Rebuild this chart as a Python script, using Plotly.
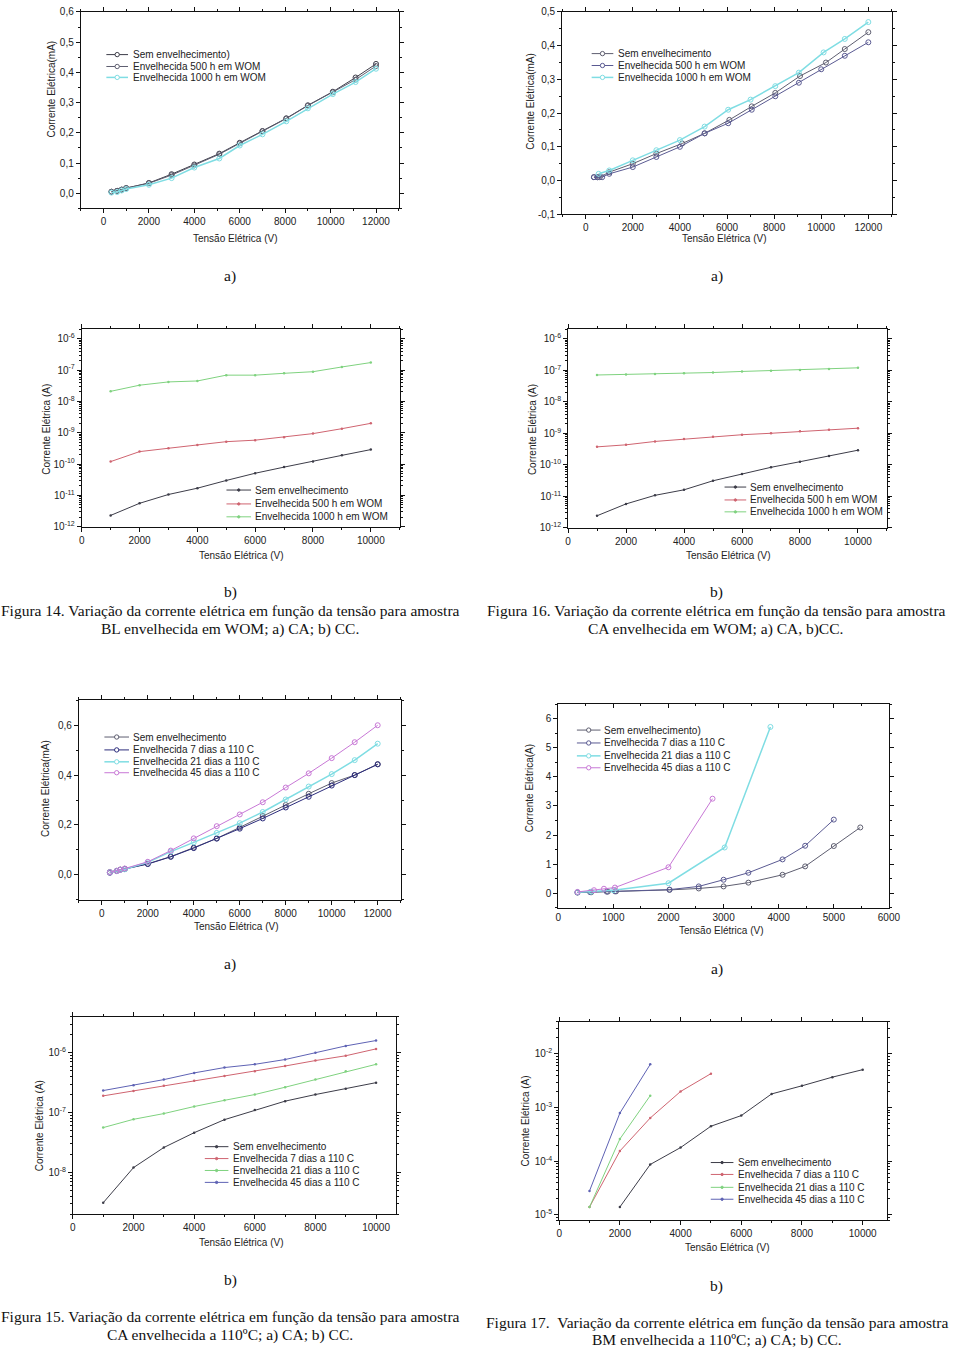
import math
import plotly.graph_objects as go

W, H = 960, 1357

# ---------------- data ----------------
# Panel 1 (Fig 14 a) - CA, BL in WOM
p1_names = ["Sem envelhecimento)", "Envelhecida 500 h em WOM", "Envelhecida 1000 h em WOM"]
p1_x = [350, 600, 800, 1000, 2000, 3000, 4000, 5100, 6000, 7000, 8050, 9000, 10100, 11100, 12000]
p1_sem = [0.005, 0.008, 0.012, 0.017, 0.034, 0.063, 0.095, 0.131, 0.167, 0.206, 0.248, 0.291, 0.336, 0.383, 0.428]
p1_500 = [0.005, 0.008, 0.012, 0.017, 0.033, 0.060, 0.092, 0.129, 0.165, 0.205, 0.247, 0.290, 0.334, 0.376, 0.421]
p1_1000 = [0.002, 0.004, 0.009, 0.014, 0.028, 0.050, 0.085, 0.115, 0.158, 0.195, 0.238, 0.281, 0.328, 0.368, 0.412]

# Panel 2 (Fig 16 a) - CA, CA in WOM
p2_names = ["Sem envelhecimento", "Envelhecida 500 h em WOM", "Envelhecida 1000 h em WOM"]
p2_x_sem = [350, 500, 600, 1000, 2000, 3000, 4100, 5050, 6100, 7050, 8050, 9100, 10200, 11000, 12000]
p2_sem = [0.01, 0.01, 0.01, 0.025, 0.05, 0.08, 0.11, 0.14, 0.18, 0.22, 0.26, 0.31, 0.35, 0.39, 0.44]
p2_x_500 = [350, 500, 700, 1000, 2000, 3000, 4000, 5050, 6050, 7050, 8050, 9050, 10000, 11000, 12000]
p2_500 = [0.01, 0.01, 0.01, 0.02, 0.04, 0.07, 0.10, 0.14, 0.17, 0.21, 0.25, 0.29, 0.33, 0.37, 0.41]
p2_x_1000 = [550, 1000, 2000, 3000, 4000, 5050, 6050, 7000, 8050, 9050, 10100, 11000, 12000]
p2_1000 = [0.02, 0.03, 0.06, 0.09, 0.12, 0.16, 0.21, 0.24, 0.28, 0.32, 0.38, 0.42, 0.47]

# Panel 3 (Fig 14 b) - CC
cc_names_wom = ["Sem envelhecimento", "Envelhecida 500 h em WOM", "Envelhecida 1000 h em WOM"]
cc_x = [1000, 2000, 3000, 4000, 5000, 6000, 7000, 8000, 9000, 10000]
p3_sem = [2.3e-12, 5.6e-12, 1.07e-11, 1.7e-11, 3.0e-11, 5.1e-11, 8.0e-11, 1.2e-10, 1.9e-10, 2.9e-10]
p3_500 = [1.2e-10, 2.5e-10, 3.2e-10, 4.1e-10, 5.2e-10, 5.8e-10, 7.2e-10, 9.4e-10, 1.35e-9, 2.0e-9]
p3_1000 = [2.1e-8, 3.3e-8, 4.2e-8, 4.5e-8, 6.9e-8, 6.9e-8, 7.9e-8, 8.9e-8, 1.26e-7, 1.74e-7]

# Panel 4 (Fig 16 b) - CC
p4_sem = [2.4e-12, 5.7e-12, 1.07e-11, 1.6e-11, 3.1e-11, 5.1e-11, 8.3e-11, 1.25e-10, 1.9e-10, 2.9e-10]
p4_500 = [3.7e-10, 4.3e-10, 5.5e-10, 6.6e-10, 7.8e-10, 9.0e-10, 1.0e-9, 1.15e-9, 1.3e-9, 1.45e-9]
p4_1000 = [7.1e-8, 7.4e-8, 7.7e-8, 8.1e-8, 8.5e-8, 9.2e-8, 9.7e-8, 1.03e-7, 1.1e-7, 1.2e-7]

# Panel 5 (Fig 15 a) - CA, 110 C
p5_names = ["Sem envelhecimento", "Envelhecida 7 dias a 110 C", "Envelhecida 21 dias a 110 C", "Envelhecida 45 dias a 110 C"]
p5_x = [350, 650, 800, 1000, 2000, 3000, 4000, 5000, 6000, 7000, 8000, 9000, 10000, 11000, 12000]
p5_sem = [0.011, 0.016, 0.021, 0.024, 0.044, 0.073, 0.109, 0.146, 0.190, 0.236, 0.280, 0.325, 0.368, 0.400, 0.444]
p5_7 = [0.008, 0.015, 0.020, 0.023, 0.043, 0.072, 0.107, 0.145, 0.185, 0.226, 0.270, 0.313, 0.358, 0.400, 0.443]
p5_21 = [0.010, 0.015, 0.020, 0.022, 0.050, 0.093, 0.130, 0.168, 0.207, 0.252, 0.302, 0.354, 0.404, 0.460, 0.526]
p5_45 = [0.010, 0.015, 0.020, 0.025, 0.052, 0.097, 0.146, 0.195, 0.242, 0.291, 0.350, 0.407, 0.468, 0.532, 0.600]

# Panel 6 (Fig 17 a) - CA, BM 110 C
p6_names = ["Sem envelhecimento)", "Envelhecida 7 dias a 110 C", "Envelhecida 21 dias a 110 C", "Envelhecida 45 dias a 110 C"]
p6_x_sem = [350, 600, 900, 1050, 2020, 2550, 3000, 3450, 4070, 4480, 5000, 5480]
p6_sem = [0.02, 0.03, 0.05, 0.06, 0.11, 0.16, 0.23, 0.36, 0.63, 0.92, 1.62, 2.26]
p6_x_7 = [350, 580, 880, 1030, 2020, 2550, 3000, 3450, 4070, 4480, 5000]
p6_7 = [0.02, 0.03, 0.05, 0.06, 0.12, 0.23, 0.46, 0.70, 1.16, 1.63, 2.53]
p6_x_21 = [350, 600, 1000, 2000, 3020, 3850]
p6_21 = [0.03, 0.05, 0.10, 0.34, 1.57, 5.72]
p6_x_45 = [350, 650, 830, 1030, 2000, 2800]
p6_45 = [0.04, 0.10, 0.15, 0.19, 0.89, 3.25]

# Panel 7 (Fig 15 b) - CC
cc_names_110 = ["Sem envelhecimento", "Envelhecida 7 dias a 110 C", "Envelhecida 21 dias a 110 C", "Envelhecida 45 dias a 110 C"]
p7_sem = [3.1e-9, 1.2e-8, 2.6e-8, 4.6e-8, 7.6e-8, 1.1e-7, 1.55e-7, 2.0e-7, 2.5e-7, 3.16e-7]
p7_7 = [1.9e-7, 2.3e-7, 2.8e-7, 3.4e-7, 4.07e-7, 4.9e-7, 6.0e-7, 7.4e-7, 8.9e-7, 1.16e-6]
p7_21 = [5.6e-8, 7.7e-8, 9.6e-8, 1.26e-7, 1.6e-7, 2.0e-7, 2.65e-7, 3.55e-7, 4.9e-7, 6.4e-7]
p7_45 = [2.33e-7, 2.85e-7, 3.55e-7, 4.6e-7, 5.65e-7, 6.4e-7, 7.7e-7, 1.0e-6, 1.3e-6, 1.6e-6]

# Panel 8 (Fig 17 b) - CC
p8_x_sem = [2000, 3000, 4000, 5000, 6000, 7000, 8000, 9000, 10000]
p8_sem = [1.4e-5, 8.7e-5, 1.8e-4, 4.5e-4, 7.1e-4, 1.8e-3, 2.55e-3, 3.7e-3, 5.1e-3]
p8_x_7 = [1000, 2000, 3000, 4000, 5000]
p8_7 = [1.4e-5, 1.55e-4, 6.4e-4, 2.0e-3, 4.3e-3]
p8_x_21 = [1000, 2000, 3000]
p8_21 = [1.4e-5, 2.6e-4, 1.67e-3]
p8_x_45 = [1000, 2000, 3000]
p8_45 = [2.8e-5, 7.9e-4, 6.4e-3]

# tick labels
xt_12k = [0, 2000, 4000, 6000, 8000, 10000, 12000]
xt_12k_txt = ["0", "2000", "4000", "6000", "8000", "10000", "12000"]
xt_10k = [0, 2000, 4000, 6000, 8000, 10000]
xt_10k_txt = ["0", "2000", "4000", "6000", "8000", "10000"]
xt_6k = [0, 1000, 2000, 3000, 4000, 5000, 6000]
xt_6k_txt = ["0", "1000", "2000", "3000", "4000", "5000", "6000"]
yt_p1 = [0.0, 0.1, 0.2, 0.3, 0.4, 0.5, 0.6]
yt_p1_txt = ["0,0", "0,1", "0,2", "0,3", "0,4", "0,5", "0,6"]
yt_p2 = [-0.1, 0.0, 0.1, 0.2, 0.3, 0.4, 0.5]
yt_p2_txt = ["-0,1", "0,0", "0,1", "0,2", "0,3", "0,4", "0,5"]
yt_p5 = [0.0, 0.2, 0.4, 0.6]
yt_p5_txt = ["0,0", "0,2", "0,4", "0,6"]
yt_p6 = [0, 1, 2, 3, 4, 5, 6]
yt_p6_txt = ["0", "1", "2", "3", "4", "5", "6"]
yt_p34_exp = [-12, -11, -10, -9, -8, -7, -6]
yt_p7_exp = [-8, -7, -6]
yt_p8_exp = [-5, -4, -3, -2]

x_title = "Tensão Elétrica (V)"
y_titles = ["Corrente Elétrica(mA)", "Corrente Elétrica(mA)", "Corrente Elétrica (A)", "Corrente Elétrica (A)",
            "Corrente Elétrica(mA)", "Corrente Elétrica(A)", "Corrente Elétrica (A)", "Corrente Elétrica (A)"]

# ---------------- styles ----------------
FONT = "Liberation Sans, Arial, sans-serif"
SERIF = "Liberation Serif, Times New Roman, serif"
C_SEM = "#3c3c48"
C_GRAY = "#5e5e70"
C_PURP = "#5a5a92"
C_NAVY = "#2c2c7c"
C_CYAN = "#7fdde3"
C_VIOL = "#c878d6"
C_RED = "#cf6470"
C_GREEN = "#7fd27f"
C_BLUE = "#5e62b4"


def fx(px):
    return px / W


def fy(py):
    return 1 - py / H


def log_minor(e0, e1):
    return [m * 10.0 ** e for e in range(e0, e1) for m in range(2, 10)]


def sup(e):
    return "10<sup>%d</sup>" % e


panels = [
    dict(box=(79, 402, 7, 205), xr=[-1000, 13000], yr=[-0.05, 0.6], log=False, xticks="outside",
         xt=(xt_12k, xt_12k_txt), yt=(yt_p1, yt_p1_txt), xminor=list(range(-1000, 13001, 1000)),
         yminor=[v / 100 for v in range(-5, 61, 5)],
         xtitle=(236, 235), ytitle=(49, 85)),
    dict(box=(568, 903, 7, 211), xr=[-1000, 13000], yr=[-0.1, 0.5], log=False, xticks="outside",
         xt=(xt_12k, xt_12k_txt), yt=(yt_p2, yt_p2_txt), xminor=list(range(-1000, 13001, 1000)),
         yminor=[v / 100 for v in range(-10, 51, 5)],
         xtitle=(732, 235), ytitle=(536, 97)),
    dict(box=(80, 403, 327, 526), xr=[0, 11000], yr=[-12, math.log10(2e-6)], log=True, xticks="outside",
         xt=(xt_10k, xt_10k_txt), yt=([10.0 ** e for e in yt_p34_exp], [sup(e) for e in yt_p34_exp]),
         xminor=list(range(0, 11001, 1000)), yminor=log_minor(-12, -5),
         xtitle=(242, 555), ytitle=(44, 428)),
    dict(box=(574, 898, 327, 527), xr=[0, 11000], yr=[-12, math.log10(2e-6)], log=True, xticks="outside",
         xt=(xt_10k, xt_10k_txt), yt=([10.0 ** e for e in yt_p34_exp], [sup(e) for e in yt_p34_exp]),
         xminor=list(range(0, 11001, 1000)), yminor=log_minor(-12, -5),
         xtitle=(736, 555), ytitle=(538, 428)),
    dict(box=(77, 404, 701, 902), xr=[-1000, 13000], yr=[-0.1, 0.7], log=False, xticks="outside",
         xt=(xt_12k, xt_12k_txt), yt=(yt_p5, yt_p5_txt), xminor=list(range(-1000, 13001, 1000)),
         yminor=[v / 10 for v in range(-1, 8)],
         xtitle=(237, 929), ytitle=(43, 790)),
    dict(box=(564, 900, 705, 910), xr=[0, 6000], yr=[-0.5, 6.5], log=False, xticks="inside",
         xt=(xt_6k, xt_6k_txt), yt=(yt_p6, yt_p6_txt), xminor=list(range(0, 6001, 500)),
         yminor=[v / 2 for v in range(-1, 14)],
         xtitle=(729, 933), ytitle=(535, 790)),
    dict(box=(71, 399, 1020, 1219), xr=[0, 10650], yr=[math.log10(2e-9), math.log10(4e-6)], log=True,
         xticks="outside",
         xt=(xt_10k, xt_10k_txt), yt=([10.0 ** e for e in yt_p7_exp], [sup(e) for e in yt_p7_exp]),
         xminor=list(range(0, 10001, 1000)), yminor=log_minor(-9, -5),
         xtitle=(242, 1248), ytitle=(37, 1130)),
    dict(box=(565, 898, 1025, 1225), xr=[0, 10800], yr=[math.log10(8e-6), math.log10(4e-2)], log=True,
         xticks="outside",
         xt=(xt_10k, xt_10k_txt), yt=([10.0 ** e for e in yt_p8_exp], [sup(e) for e in yt_p8_exp]),
         xminor=list(range(0, 10001, 1000)), yminor=log_minor(-6, -1),
         xtitle=(735, 1253), ytitle=(531, 1125)),
]

# series per panel: (x, y, name, color, width)
series = [
    [(p1_x, p1_sem, p1_names[0], C_SEM, 1.0), (p1_x, p1_500, p1_names[1], C_GRAY, 1.0),
     (p1_x, p1_1000, p1_names[2], C_CYAN, 1.5)],
    [(p2_x_sem, p2_sem, p2_names[0], C_GRAY, 1.0), (p2_x_500, p2_500, p2_names[1], C_PURP, 1.0),
     (p2_x_1000, p2_1000, p2_names[2], C_CYAN, 1.5)],
    [(cc_x, p3_sem, cc_names_wom[0], C_SEM, 1.0), (cc_x, p3_500, cc_names_wom[1], C_RED, 1.0),
     (cc_x, p3_1000, cc_names_wom[2], C_GREEN, 1.0)],
    [(cc_x, p4_sem, cc_names_wom[0], C_SEM, 1.0), (cc_x, p4_500, cc_names_wom[1], C_RED, 1.0),
     (cc_x, p4_1000, cc_names_wom[2], C_GREEN, 1.0)],
    [(p5_x, p5_sem, p5_names[0], C_GRAY, 1.0), (p5_x, p5_7, p5_names[1], C_NAVY, 1.0),
     (p5_x, p5_21, p5_names[2], C_CYAN, 1.5), (p5_x, p5_45, p5_names[3], C_VIOL, 1.0)],
    [(p6_x_sem, p6_sem, p6_names[0], C_GRAY, 1.0), (p6_x_7, p6_7, p6_names[1], C_PURP, 1.0),
     (p6_x_21, p6_21, p6_names[2], C_CYAN, 1.5), (p6_x_45, p6_45, p6_names[3], C_VIOL, 1.0)],
    [(cc_x, p7_sem, cc_names_110[0], C_SEM, 1.0), (cc_x, p7_7, cc_names_110[1], C_RED, 1.0),
     (cc_x, p7_21, cc_names_110[2], C_GREEN, 1.0), (cc_x, p7_45, cc_names_110[3], C_BLUE, 1.0)],
    [(p8_x_sem, p8_sem, cc_names_110[0], C_SEM, 1.0), (p8_x_7, p8_7, cc_names_110[1], C_RED, 1.0),
     (p8_x_21, p8_21, cc_names_110[2], C_GREEN, 1.0), (p8_x_45, p8_45, cc_names_110[3], C_BLUE, 1.0)],
]

# legend layout per panel: line x0, x1, text x, rows y (pixels)
legends = [
    (105, 127, 130, [50, 62, 73]),
    (598, 620, 623, [49, 61, 73]),
    (227, 252, 254, [489, 503, 516]),
    (733, 755, 757, [486, 499, 511]),
    (103, 128, 130, [738, 751, 763, 774]),
    (583, 607, 609, [731, 744, 757, 769]),
    (205, 229, 232, [1151, 1163, 1175, 1187]),
    (719, 742, 745, [1167, 1179, 1192, 1204]),
]

fig = go.Figure()
layout = dict(width=W, height=H, margin=dict(l=0, r=0, t=0, b=0),
              paper_bgcolor="white", plot_bgcolor="white", showlegend=False,
              font=dict(family=FONT, size=10, color="#222"))
annotations = []
shapes = []

for i, (pan, ser, leg) in enumerate(zip(panels, series, legends)):
    n = i + 1
    xa = "xaxis" if n == 1 else "xaxis%d" % n
    ya = "yaxis" if n == 1 else "yaxis%d" % n
    xr_ = "x" if n == 1 else "x%d" % n
    yr_ = "y" if n == 1 else "y%d" % n
    x0, x1, y0, y1 = pan["box"]
    common = dict(showline=True, linecolor="#111", linewidth=1, mirror="ticks",
                  ticklen=4, tickwidth=1, tickcolor="#111",
                  showgrid=False, zeroline=False, tickfont=dict(family=FONT, size=10, color="#222"))
    layout[xa] = dict(common, domain=[fx(x0), fx(x1)], range=pan["xr"], anchor=yr_,
                      ticks=pan["xticks"],
                      tickmode="array", tickvals=pan["xt"][0], ticktext=pan["xt"][1],
                      minor=dict(tickmode="array", tickvals=pan["xminor"], ticks=pan["xticks"],
                                 ticklen=2, tickcolor="#111"))
    layout[ya] = dict(common, domain=[fy(y1), fy(y0)], range=pan["yr"], anchor=xr_,
                      type="log" if pan["log"] else "linear", ticks="outside",
                      tickmode="array", tickvals=pan["yt"][0], ticktext=pan["yt"][1],
                      minor=dict(tickmode="array", tickvals=pan["yminor"], ticks="outside",
                                 ticklen=2, tickcolor="#111"))
    for (xs, ys, name, col, wdt) in ser:
        if pan["log"]:
            mk = dict(symbol="circle", size=2.5, color=col)
        else:
            mk = dict(symbol="circle-open", size=5, color=col, line=dict(width=1, color=col))
        fig.add_trace(go.Scatter(x=xs, y=ys, name=name, mode="lines+markers",
                                 line=dict(color=col, width=wdt), marker=mk,
                                 xaxis=xr_, yaxis=yr_))
    # axis titles
    annotations.append(dict(x=fx(pan["xtitle"][0]), y=fy(pan["xtitle"][1]), xref="paper", yref="paper",
                            text=x_title, showarrow=False, xanchor="center", yanchor="middle",
                            font=dict(family=FONT, size=10, color="#222")))
    annotations.append(dict(x=fx(pan["ytitle"][0]), y=fy(pan["ytitle"][1]), xref="paper", yref="paper",
                            text=y_titles[i], showarrow=False, xanchor="center", yanchor="middle",
                            textangle=-90, font=dict(family=FONT, size=10, color="#222")))
    # legend
    lx0, lx1, tx, rows = leg
    for (xs, ys, name, col, wdt), ry in zip(ser, rows):
        shapes.append(dict(type="line", xref="paper", yref="paper", x0=fx(lx0), x1=fx(lx1),
                           y0=fy(ry), y1=fy(ry), line=dict(color=col, width=wdt)))
        cx = (lx0 + lx1) / 2
        r = 2.2 if not pan["log"] else 1.2
        shapes.append(dict(type="circle", xref="paper", yref="paper",
                           x0=fx(cx - r), x1=fx(cx + r), y0=fy(ry + r), y1=fy(ry - r),
                           line=dict(color=col, width=1),
                           fillcolor="white" if not pan["log"] else col))
        annotations.append(dict(x=fx(tx), y=fy(ry), xref="paper", yref="paper", text=name,
                                showarrow=False, xanchor="left", yanchor="middle",
                                font=dict(family=FONT, size=10, color="#222")))

# sub-labels and captions
labels = [("a)", 231, 273), ("a)", 725, 273), ("b)", 231, 592), ("b)", 725, 592),
          ("a)", 231, 967), ("a)", 725, 972), ("b)", 231, 1285), ("b)", 725, 1291)]
captions = [
    ("Figura 14. Variação da corrente elétrica em função da tensão para amostra", 231, 610),
    ("BL envelhecida em WOM; a) CA; b) CC.", 231, 629),
    ("Figura 16. Variação da corrente elétrica em função da tensão para amostra", 725, 610),
    ("CA envelhecida em WOM; a) CA, b)CC.", 724, 629),
    ("Figura 15. Variação da corrente elétrica em função da tensão para amostra", 231, 1322),
    ("CA envelhecida a 110ºC; a) CA; b) CC.", 231, 1341),
    ("Figura 17.  Variação da corrente elétrica em função da tensão para amostra", 725, 1328),
    ("BM envelhecida a 110ºC; a) CA; b) CC.", 725, 1346),
]
for t, x, y in labels + captions:
    annotations.append(dict(x=fx(x), y=fy(y), xref="paper", yref="paper", text=t.replace("  ", "&nbsp; "),
                            showarrow=False, xanchor="center", yanchor="middle",
                            font=dict(family=SERIF, size=15.5, color="#111")))

layout["annotations"] = annotations
layout["shapes"] = shapes
fig.update_layout(**layout)
fig.write_html("out.html", config={"displayModeBar": False},
               post_script="document.body.style.margin='0px';document.body.style.overflow='hidden';")
